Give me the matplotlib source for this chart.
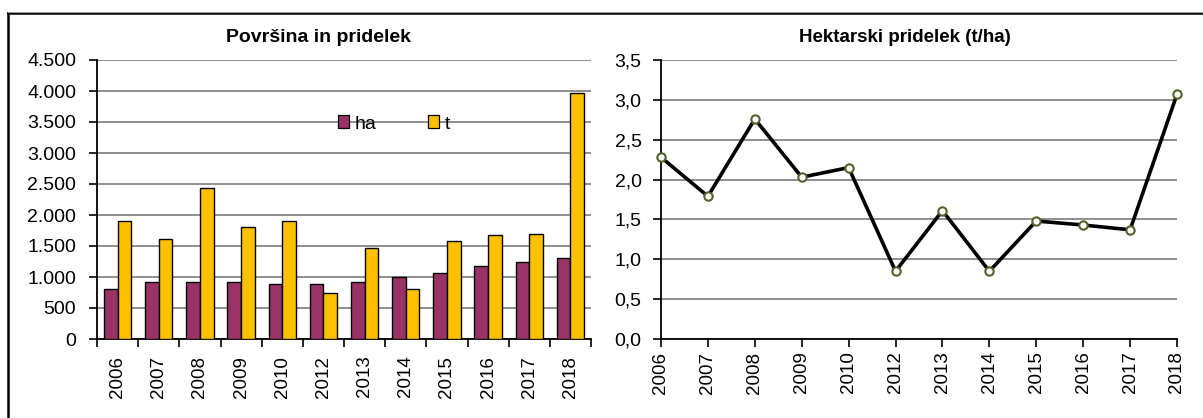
import matplotlib
matplotlib.use("Agg")
import matplotlib.pyplot as plt
from matplotlib.ticker import FuncFormatter, FixedLocator, MultipleLocator
from matplotlib.patches import Patch
from matplotlib.lines import Line2D
import numpy as np

plt.rcParams['font.family'] = ['Liberation Sans', 'DejaVu Sans']

years = ["2006", "2007", "2008", "2009", "2010", "2012", "2013", "2014", "2015", "2016", "2017", "2018"]
ha = [810, 920, 920, 920, 890, 890, 920, 1000, 1060, 1180, 1240, 1300]
t = [1900, 1610, 2440, 1810, 1900, 750, 1470, 810, 1580, 1670, 1700, 3970]
yield_tha = [2.28, 1.79, 2.76, 2.03, 2.15, 0.85, 1.61, 0.85, 1.48, 1.43, 1.37, 3.07]

title_left = "Površina in pridelek"
title_right = "Hektarski pridelek (t/ha)"

W, H = 1203, 418
fig = plt.figure(figsize=(W / 100, H / 100), dpi=100)

def fx(px):
    return px / W

def fy(py):
    return 1 - py / H

grid_c = "#868686"
fs_y = 14
fs_x = 13.5
fs_title = 13.5

# left axes
ax1 = fig.add_axes([fx(97), fy(339), fx(591) - fx(97), fy(60) - fy(339)])
x = np.arange(len(years))
bw = 0.33
ax1.bar(x - bw / 2, ha, bw, color="#993366", edgecolor="black", linewidth=1.0, label="ha", zorder=3)
ax1.bar(x + bw / 2, t, bw, color="#FFC000", edgecolor="black", linewidth=1.0, label="t", zorder=3)
ax1.set_xlim(-0.5, len(years) - 0.5)
ax1.set_ylim(0, 4500)
ax1.yaxis.set_major_locator(MultipleLocator(500))
ax1.yaxis.set_major_formatter(FuncFormatter(lambda v, p: f"{v:,.0f}".replace(",", ".")))
ax1.xaxis.set_major_locator(FixedLocator(np.arange(-0.5, len(years), 1.0)))
ax1.xaxis.set_major_formatter(FuncFormatter(lambda v, p: ""))
ax1.set_xticks(x, minor=True)
ax1.set_xticklabels(years, minor=True, rotation=90, fontsize=fs_x)
ax1.tick_params(axis="x", which="minor", length=0, pad=12)
ax1.tick_params(axis="x", which="major", length=6, width=1.2, direction="out")
ax1.tick_params(axis="y", length=6, width=1.2, labelsize=fs_y, pad=9)
ax1.grid(axis="y", color=grid_c, linewidth=1.3, zorder=0)
for s in ["top", "right"]:
    ax1.spines[s].set_visible(False)
for s in ["left", "bottom"]:
    ax1.spines[s].set_linewidth(1.3)
ax1.set_axisbelow(True)
fig.text(fx(318), fy(37), title_left, ha="center", va="center", fontsize=14, fontweight="bold")
handles = [Patch(facecolor="#993366", edgecolor="black", linewidth=0.9),
           Patch(facecolor="#FFC000", edgecolor="black", linewidth=0.9)]
fig.legend(handles, ["ha", "t"], loc="center", bbox_to_anchor=(fx(394), fy(124)), ncol=2,
           frameon=False, fontsize=fs_y, handlelength=0.6, handleheight=0.6,
           handletextpad=0.3, columnspacing=2.6)

# right axes
ax2 = fig.add_axes([fx(661), fy(339), fx(1177) - fx(661), fy(60) - fy(339)])
ax2.plot(x, yield_tha, color="black", linewidth=2.6, zorder=3, clip_on=False,
         marker="o", markersize=6, markerfacecolor="white", markeredgecolor="#4F6228",
         markeredgewidth=1.5)
ax2.set_xlim(0, len(years) - 1)
ax2.set_ylim(0, 3.5)
ax2.yaxis.set_major_locator(MultipleLocator(0.5))
ax2.yaxis.set_major_formatter(FuncFormatter(lambda v, p: f"{v:.1f}".replace(".", ",")))
ax2.set_xticks(x)
ax2.set_xticklabels(years, rotation=90, fontsize=fs_x)
ax2.tick_params(axis="x", length=6, width=1.2, direction="out", pad=3)
ax2.tick_params(axis="y", length=6, width=1.2, labelsize=fs_y, pad=8)
ax2.grid(axis="y", color=grid_c, linewidth=1.3, zorder=0)
for s in ["top", "right"]:
    ax2.spines[s].set_visible(False)
for s in ["left", "bottom"]:
    ax2.spines[s].set_linewidth(1.3)
ax2.set_axisbelow(True)
fig.text(fx(905), fy(37), title_right, ha="center", va="center", fontsize=fs_title, fontweight="bold")

# outer frame lines
fig.add_artist(Line2D([fx(8), fx(8)], [fy(13), 0], color="black", linewidth=1.8))
fig.add_artist(Line2D([fx(8), 1], [fy(13), fy(13)], color="black", linewidth=1.8))
fig.add_artist(Line2D([fx(8), 1], [fy(11.5), fy(11.5)], color="#A0A0A0", linewidth=0.8))

fig.savefig("out.png", dpi=100)
